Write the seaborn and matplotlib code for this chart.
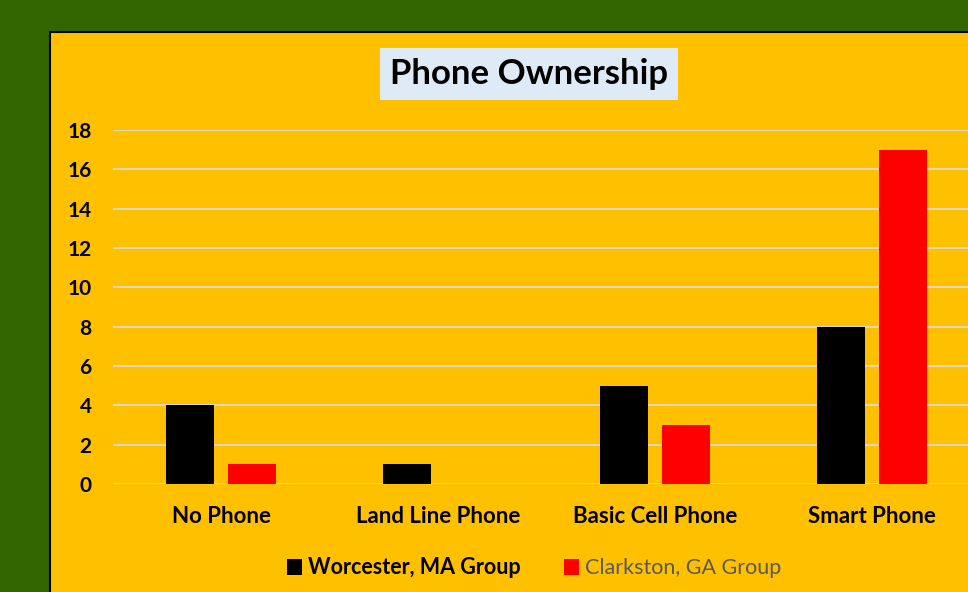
import numpy as np
import pandas as pd
import matplotlib
matplotlib.use("Agg")
import matplotlib.pyplot as plt
from matplotlib.patches import Rectangle
import seaborn as sns

# data
categories = ["No Phone", "Land Line Phone", "Basic Cell Phone", "Smart Phone"]
worcester = [4, 1, 5, 8]
clarkston = [1, 0, 3, 17]
groups = ["Worcester, MA Group", "Clarkston, GA Group"]
y_ticks = [0, 2, 4, 6, 8, 10, 12, 14, 16, 18]

df = pd.DataFrame({
    "category": categories * 2,
    "count": worcester + clarkston,
    "group": [groups[0]] * len(categories) + [groups[1]] * len(categories),
})

sns.set_style("white")
plt.rcParams["font.family"] = ["Lato", "DejaVu Sans"]
plt.rcParams["text.color"] = "black"
plt.rcParams["xtick.color"] = "black"
plt.rcParams["ytick.color"] = "black"

W, H = 968, 592
fig = plt.figure(figsize=(W / 100, H / 100), dpi=100, facecolor="#336600")

# orange panel with black border on left/top
panel = Rectangle((50 / W, -0.05), 1.1, 1 - 32 / H + 0.05, transform=fig.transFigure,
                  facecolor="#FFC000", edgecolor="black", linewidth=1.5, zorder=-10)
fig.patches.append(panel)

left, right = 112.5 / W, 980.5 / W
bottom, top = (H - 484) / H, (H - 130) / H
ax = fig.add_axes([left, bottom, right - left, top - bottom])
ax.set_facecolor("none")
ax.set_zorder(1)

sns.barplot(data=df, x="category", y="count", hue="group", order=categories,
            hue_order=groups, palette=["black", "#FF0000"], width=0.572, gap=0.227,
            saturation=1, linewidth=0, ax=ax, zorder=3)

ax.set_ylim(0, 18)
ax.set_xlim(-0.5, 3.5)
ax.set_yticks(y_ticks)
ax.yaxis.grid(True, color="#D9D9D9", linewidth=1.3, zorder=1)
ax.set_axisbelow(True)
for s in ax.spines.values():
    s.set_visible(False)
ax.tick_params(axis="both", length=0)
ax.tick_params(axis="y", pad=15)
ax.tick_params(axis="x", pad=15.5)
for lbl in ax.get_yticklabels():
    lbl.set_fontsize(15)
    lbl.set_fontweight("bold")
for lbl in ax.get_xticklabels():
    lbl.set_fontsize(16)
    lbl.set_fontweight("bold")
ax.set_xlabel("")
ax.set_ylabel("")

# legend at bottom
handles, labels = ax.get_legend_handles_labels()
ax.get_legend().remove()
leg = fig.legend(handles, labels, loc="center", bbox_to_anchor=(534 / W, 1 - 568 / H),
                 ncol=2, frameon=False, fontsize=15.5, handlelength=0.7, handleheight=0.7,
                 handletextpad=0.3, columnspacing=2.0)
leg.get_texts()[0].set_fontweight("bold")
leg.get_texts()[0].set_color("black")
leg.get_texts()[1].set_color("#595959")

# title in light blue box
fig.text(529 / W, 1 - 74 / H, "Phone Ownership", ha="center", va="center",
         fontsize=25, fontweight="bold", color="black",
         bbox=dict(boxstyle="square,pad=0.3", facecolor="#DEEBF7", edgecolor="none"))

fig.savefig("out.png", dpi=100, facecolor=fig.get_facecolor())
